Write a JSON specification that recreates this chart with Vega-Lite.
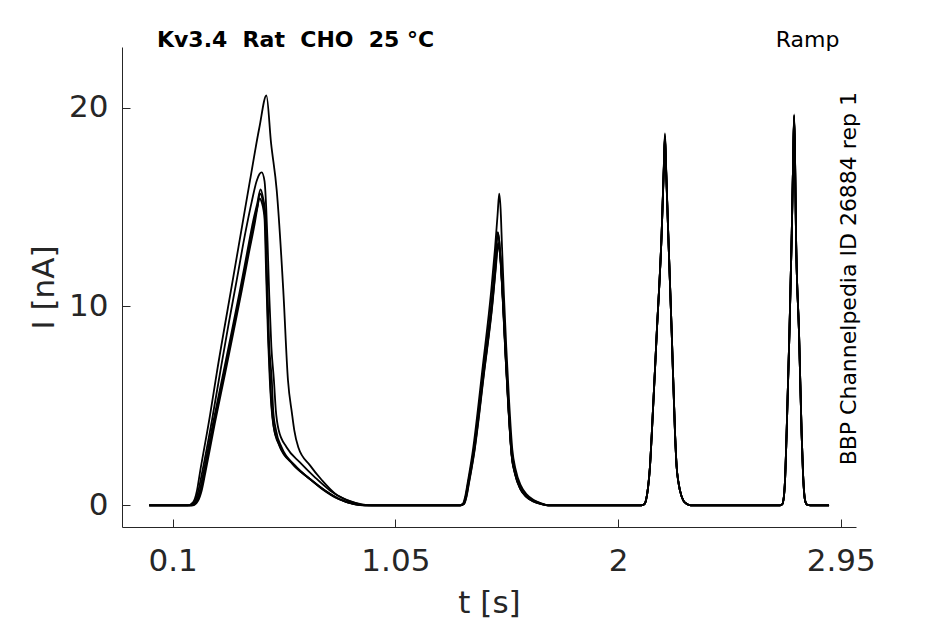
{
  "$schema": "https://vega.github.io/schema/vega-lite/v6.json",
  "width": 734,
  "height": 480,
  "autosize": "none",
  "padding": {"left": 122, "top": 47, "right": 89, "bottom": 97},
  "background": "white",
  "config": {"view": {"stroke": null}, "font": "DejaVu Sans"},
  "layer": [
    {
      "data": {"values": [
        {"sweep":"a","t":0,"i":0},{"sweep":"a","t":0.165,"i":0},{"sweep":"a","t":0.187,"i":0.15},{"sweep":"a","t":0.204,"i":0.75},{"sweep":"a","t":0.216,"i":1.61},{"sweep":"a","t":0.259,"i":4.5},{"sweep":"a","t":0.288,"i":6.64},{"sweep":"a","t":0.3585,"i":11.46},{"sweep":"a","t":0.43,"i":16.34},{"sweep":"a","t":0.47,"i":19.0},{"sweep":"a","t":0.5,"i":20.61},{"sweep":"a","t":0.52,"i":18.2},{"sweep":"a","t":0.544,"i":15.84},{"sweep":"a","t":0.572,"i":10.81},{"sweep":"a","t":0.592,"i":6.29},{"sweep":"a","t":0.609,"i":4.63},{"sweep":"a","t":0.619,"i":3.77},{"sweep":"a","t":0.636,"i":2.92},{"sweep":"a","t":0.686,"i":2.01},{"sweep":"a","t":0.737,"i":1.26},{"sweep":"a","t":0.792,"i":0.6},{"sweep":"a","t":0.848,"i":0.25},{"sweep":"a","t":0.908,"i":0.05},{"sweep":"a","t":0.95,"i":0},
        {"sweep":"a","t":1.324,"i":0},{"sweep":"a","t":1.338,"i":0.08},{"sweep":"a","t":1.348,"i":0.45},{"sweep":"a","t":1.358,"i":1.1},{"sweep":"a","t":1.38,"i":2.7},{"sweep":"a","t":1.423,"i":7.0},{"sweep":"a","t":1.459,"i":10.8},{"sweep":"a","t":1.475,"i":12.9},{"sweep":"a","t":1.486,"i":14.6},{"sweep":"a","t":1.493,"i":15.67},{"sweep":"a","t":1.499,"i":14.9},{"sweep":"a","t":1.505,"i":13.0},{"sweep":"a","t":1.513,"i":10.6},{"sweep":"a","t":1.523,"i":8.0},{"sweep":"a","t":1.535,"i":5.3},{"sweep":"a","t":1.549,"i":2.8},{"sweep":"a","t":1.563,"i":1.8},{"sweep":"a","t":1.585,"i":1.0},{"sweep":"a","t":1.61,"i":0.55},{"sweep":"a","t":1.64,"i":0.27},{"sweep":"a","t":1.672,"i":0.1},{"sweep":"a","t":1.705,"i":0},
        {"sweep":"a","t":2.1,"i":0},{"sweep":"a","t":2.112,"i":0.05},{"sweep":"a","t":2.12,"i":0.3},{"sweep":"a","t":2.128,"i":0.9},{"sweep":"a","t":2.136,"i":1.93},{"sweep":"a","t":2.144,"i":3.62},{"sweep":"a","t":2.165,"i":8.65},{"sweep":"a","t":2.186,"i":13.68},{"sweep":"a","t":2.196,"i":17.4},{"sweep":"a","t":2.2,"i":18.7},{"sweep":"a","t":2.204,"i":17.4},{"sweep":"a","t":2.214,"i":13.68},{"sweep":"a","t":2.229,"i":8.65},{"sweep":"a","t":2.243,"i":3.62},{"sweep":"a","t":2.25,"i":1.93},{"sweep":"a","t":2.257,"i":1.2},{"sweep":"a","t":2.264,"i":0.75},{"sweep":"a","t":2.278,"i":0.25},{"sweep":"a","t":2.292,"i":0.08},{"sweep":"a","t":2.31,"i":0},
        {"sweep":"a","t":2.69,"i":0},{"sweep":"a","t":2.7,"i":0.05},{"sweep":"a","t":2.707,"i":0.4},{"sweep":"a","t":2.712,"i":1.2},{"sweep":"a","t":2.719,"i":3.62},{"sweep":"a","t":2.731,"i":8.65},{"sweep":"a","t":2.741,"i":13.68},{"sweep":"a","t":2.747,"i":17.5},{"sweep":"a","t":2.751,"i":19.66},{"sweep":"a","t":2.755,"i":17.5},{"sweep":"a","t":2.759,"i":13.68},{"sweep":"a","t":2.772,"i":8.65},{"sweep":"a","t":2.783,"i":3.62},{"sweep":"a","t":2.789,"i":1.6},{"sweep":"a","t":2.794,"i":0.6},{"sweep":"a","t":2.8,"i":0.15},{"sweep":"a","t":2.808,"i":0.02},{"sweep":"a","t":2.82,"i":0},{"sweep":"a","t":2.9,"i":0},

        {"sweep":"b","t":0,"i":0},{"sweep":"b","t":0.172,"i":0},{"sweep":"b","t":0.193,"i":0.15},{"sweep":"b","t":0.21,"i":0.75},{"sweep":"b","t":0.225,"i":1.61},{"sweep":"b","t":0.268,"i":4.3},{"sweep":"b","t":0.302,"i":6.64},{"sweep":"b","t":0.34,"i":9.2},{"sweep":"b","t":0.373,"i":11.3},{"sweep":"b","t":0.41,"i":13.7},{"sweep":"b","t":0.438,"i":15.3},{"sweep":"b","t":0.458,"i":16.3},{"sweep":"b","t":0.47,"i":16.65},{"sweep":"b","t":0.48,"i":16.74},{"sweep":"b","t":0.492,"i":16.3},{"sweep":"b","t":0.499,"i":15.0},{"sweep":"b","t":0.505,"i":13.2},{"sweep":"b","t":0.512,"i":10.6},{"sweep":"b","t":0.521,"i":8.0},{"sweep":"b","t":0.532,"i":6.29},{"sweep":"b","t":0.54,"i":4.8},{"sweep":"b","t":0.552,"i":3.8},{"sweep":"b","t":0.586,"i":2.92},{"sweep":"b","t":0.643,"i":2.16},{"sweep":"b","t":0.707,"i":1.41},{"sweep":"b","t":0.771,"i":0.75},{"sweep":"b","t":0.835,"i":0.3},{"sweep":"b","t":0.899,"i":0.05},{"sweep":"b","t":0.935,"i":0},
        {"sweep":"b","t":1.326,"i":0},{"sweep":"b","t":1.34,"i":0.08},{"sweep":"b","t":1.35,"i":0.45},{"sweep":"b","t":1.36,"i":1.1},{"sweep":"b","t":1.382,"i":2.6},{"sweep":"b","t":1.425,"i":6.79},{"sweep":"b","t":1.461,"i":10.3},{"sweep":"b","t":1.476,"i":12.3},{"sweep":"b","t":1.482,"i":13.3},{"sweep":"b","t":1.487,"i":13.74},{"sweep":"b","t":1.493,"i":13.3},{"sweep":"b","t":1.5,"i":12.2},{"sweep":"b","t":1.51,"i":10.14},{"sweep":"b","t":1.52,"i":7.7},{"sweep":"b","t":1.532,"i":5.11},{"sweep":"b","t":1.54,"i":3.5},{"sweep":"b","t":1.546,"i":2.6},{"sweep":"b","t":1.56,"i":1.7},{"sweep":"b","t":1.582,"i":0.92},{"sweep":"b","t":1.607,"i":0.5},{"sweep":"b","t":1.638,"i":0.25},{"sweep":"b","t":1.67,"i":0.1},{"sweep":"b","t":1.7,"i":0},
        {"sweep":"b","t":2.1,"i":0},{"sweep":"b","t":2.112,"i":0.05},{"sweep":"b","t":2.12,"i":0.3},{"sweep":"b","t":2.128,"i":0.9},{"sweep":"b","t":2.136,"i":1.93},{"sweep":"b","t":2.144,"i":3.62},{"sweep":"b","t":2.165,"i":8.65},{"sweep":"b","t":2.186,"i":13.68},{"sweep":"b","t":2.196,"i":17.3},{"sweep":"b","t":2.2,"i":18.6},{"sweep":"b","t":2.204,"i":17.3},{"sweep":"b","t":2.214,"i":13.68},{"sweep":"b","t":2.229,"i":8.65},{"sweep":"b","t":2.243,"i":3.62},{"sweep":"b","t":2.25,"i":1.93},{"sweep":"b","t":2.257,"i":1.2},{"sweep":"b","t":2.264,"i":0.75},{"sweep":"b","t":2.278,"i":0.25},{"sweep":"b","t":2.292,"i":0.08},{"sweep":"b","t":2.31,"i":0},
        {"sweep":"b","t":2.69,"i":0},{"sweep":"b","t":2.7,"i":0.05},{"sweep":"b","t":2.707,"i":0.4},{"sweep":"b","t":2.712,"i":1.2},{"sweep":"b","t":2.719,"i":3.62},{"sweep":"b","t":2.731,"i":8.65},{"sweep":"b","t":2.741,"i":13.68},{"sweep":"b","t":2.747,"i":17.45},{"sweep":"b","t":2.751,"i":19.6},{"sweep":"b","t":2.755,"i":17.45},{"sweep":"b","t":2.759,"i":13.68},{"sweep":"b","t":2.772,"i":8.65},{"sweep":"b","t":2.783,"i":3.62},{"sweep":"b","t":2.789,"i":1.6},{"sweep":"b","t":2.794,"i":0.6},{"sweep":"b","t":2.8,"i":0.15},{"sweep":"b","t":2.808,"i":0.02},{"sweep":"b","t":2.82,"i":0},{"sweep":"b","t":2.9,"i":0},

        {"sweep":"c","t":0,"i":0},{"sweep":"c","t":0.178,"i":0},{"sweep":"c","t":0.199,"i":0.2},{"sweep":"c","t":0.216,"i":0.75},{"sweep":"c","t":0.231,"i":1.61},{"sweep":"c","t":0.272,"i":4.12},{"sweep":"c","t":0.316,"i":6.64},{"sweep":"c","t":0.353,"i":8.8},{"sweep":"c","t":0.387,"i":10.81},{"sweep":"c","t":0.417,"i":12.67},{"sweep":"c","t":0.444,"i":14.33},{"sweep":"c","t":0.46,"i":15.13},{"sweep":"c","t":0.475,"i":15.89},{"sweep":"c","t":0.485,"i":15.5},{"sweep":"c","t":0.496,"i":14.58},{"sweep":"c","t":0.502,"i":11.82},{"sweep":"c","t":0.511,"i":8.3},{"sweep":"c","t":0.523,"i":6.29},{"sweep":"c","t":0.529,"i":4.78},{"sweep":"c","t":0.541,"i":3.77},{"sweep":"c","t":0.565,"i":2.92},{"sweep":"c","t":0.622,"i":2.01},{"sweep":"c","t":0.693,"i":1.26},{"sweep":"c","t":0.75,"i":0.75},{"sweep":"c","t":0.814,"i":0.3},{"sweep":"c","t":0.878,"i":0.05},{"sweep":"c","t":0.92,"i":0},
        {"sweep":"c","t":1.327,"i":0},{"sweep":"c","t":1.341,"i":0.08},{"sweep":"c","t":1.351,"i":0.45},{"sweep":"c","t":1.361,"i":1.1},{"sweep":"c","t":1.383,"i":2.6},{"sweep":"c","t":1.426,"i":6.75},{"sweep":"c","t":1.462,"i":10.3},{"sweep":"c","t":1.477,"i":12.3},{"sweep":"c","t":1.483,"i":13.3},{"sweep":"c","t":1.488,"i":13.7},{"sweep":"c","t":1.494,"i":13.2},{"sweep":"c","t":1.501,"i":12.0},{"sweep":"c","t":1.51,"i":9.9},{"sweep":"c","t":1.52,"i":7.5},{"sweep":"c","t":1.532,"i":5.0},{"sweep":"c","t":1.54,"i":3.45},{"sweep":"c","t":1.546,"i":2.55},{"sweep":"c","t":1.56,"i":1.65},{"sweep":"c","t":1.582,"i":0.88},{"sweep":"c","t":1.607,"i":0.47},{"sweep":"c","t":1.638,"i":0.22},{"sweep":"c","t":1.67,"i":0.08},{"sweep":"c","t":1.7,"i":0},
        {"sweep":"c","t":2.1,"i":0},{"sweep":"c","t":2.112,"i":0.05},{"sweep":"c","t":2.12,"i":0.3},{"sweep":"c","t":2.128,"i":0.9},{"sweep":"c","t":2.136,"i":1.93},{"sweep":"c","t":2.144,"i":3.62},{"sweep":"c","t":2.165,"i":8.65},{"sweep":"c","t":2.186,"i":13.68},{"sweep":"c","t":2.196,"i":17.2},{"sweep":"c","t":2.2,"i":18.5},{"sweep":"c","t":2.204,"i":17.2},{"sweep":"c","t":2.214,"i":13.68},{"sweep":"c","t":2.229,"i":8.65},{"sweep":"c","t":2.243,"i":3.62},{"sweep":"c","t":2.25,"i":1.93},{"sweep":"c","t":2.257,"i":1.2},{"sweep":"c","t":2.264,"i":0.75},{"sweep":"c","t":2.278,"i":0.25},{"sweep":"c","t":2.292,"i":0.08},{"sweep":"c","t":2.31,"i":0},
        {"sweep":"c","t":2.69,"i":0},{"sweep":"c","t":2.7,"i":0.05},{"sweep":"c","t":2.707,"i":0.4},{"sweep":"c","t":2.712,"i":1.2},{"sweep":"c","t":2.719,"i":3.62},{"sweep":"c","t":2.731,"i":8.65},{"sweep":"c","t":2.741,"i":13.68},{"sweep":"c","t":2.747,"i":17.4},{"sweep":"c","t":2.751,"i":19.5},{"sweep":"c","t":2.755,"i":17.4},{"sweep":"c","t":2.759,"i":13.68},{"sweep":"c","t":2.772,"i":8.65},{"sweep":"c","t":2.783,"i":3.62},{"sweep":"c","t":2.789,"i":1.6},{"sweep":"c","t":2.794,"i":0.6},{"sweep":"c","t":2.8,"i":0.15},{"sweep":"c","t":2.808,"i":0.02},{"sweep":"c","t":2.82,"i":0},{"sweep":"c","t":2.9,"i":0},

        {"sweep":"d","t":0,"i":0},{"sweep":"d","t":0.182,"i":0},{"sweep":"d","t":0.203,"i":0.2},{"sweep":"d","t":0.22,"i":0.75},{"sweep":"d","t":0.235,"i":1.61},{"sweep":"d","t":0.276,"i":4.12},{"sweep":"d","t":0.32,"i":6.64},{"sweep":"d","t":0.357,"i":8.8},{"sweep":"d","t":0.391,"i":10.81},{"sweep":"d","t":0.421,"i":12.67},{"sweep":"d","t":0.448,"i":14.33},{"sweep":"d","t":0.463,"i":15.1},{"sweep":"d","t":0.472,"i":15.69},{"sweep":"d","t":0.484,"i":15.35},{"sweep":"d","t":0.494,"i":14.5},{"sweep":"d","t":0.5,"i":11.9},{"sweep":"d","t":0.509,"i":8.3},{"sweep":"d","t":0.516,"i":6.29},{"sweep":"d","t":0.523,"i":4.9},{"sweep":"d","t":0.532,"i":3.9},{"sweep":"d","t":0.555,"i":3.0},{"sweep":"d","t":0.615,"i":2.05},{"sweep":"d","t":0.688,"i":1.3},{"sweep":"d","t":0.745,"i":0.78},{"sweep":"d","t":0.81,"i":0.32},{"sweep":"d","t":0.875,"i":0.06},{"sweep":"d","t":0.92,"i":0},
        {"sweep":"d","t":1.328,"i":0},{"sweep":"d","t":1.343,"i":0.08},{"sweep":"d","t":1.353,"i":0.45},{"sweep":"d","t":1.363,"i":1.1},{"sweep":"d","t":1.385,"i":2.6},{"sweep":"d","t":1.428,"i":6.7},{"sweep":"d","t":1.464,"i":10.2},{"sweep":"d","t":1.478,"i":12.0},{"sweep":"d","t":1.484,"i":12.9},{"sweep":"d","t":1.489,"i":13.2},{"sweep":"d","t":1.495,"i":12.8},{"sweep":"d","t":1.502,"i":11.7},{"sweep":"d","t":1.511,"i":9.7},{"sweep":"d","t":1.521,"i":7.3},{"sweep":"d","t":1.532,"i":4.9},{"sweep":"d","t":1.54,"i":3.4},{"sweep":"d","t":1.546,"i":2.5},{"sweep":"d","t":1.56,"i":1.6},{"sweep":"d","t":1.582,"i":0.85},{"sweep":"d","t":1.607,"i":0.45},{"sweep":"d","t":1.638,"i":0.2},{"sweep":"d","t":1.67,"i":0.07},{"sweep":"d","t":1.7,"i":0},
        {"sweep":"d","t":2.1,"i":0},{"sweep":"d","t":2.112,"i":0.05},{"sweep":"d","t":2.12,"i":0.3},{"sweep":"d","t":2.128,"i":0.9},{"sweep":"d","t":2.136,"i":1.93},{"sweep":"d","t":2.144,"i":3.62},{"sweep":"d","t":2.165,"i":8.65},{"sweep":"d","t":2.186,"i":13.68},{"sweep":"d","t":2.196,"i":17.15},{"sweep":"d","t":2.2,"i":18.45},{"sweep":"d","t":2.204,"i":17.15},{"sweep":"d","t":2.214,"i":13.68},{"sweep":"d","t":2.229,"i":8.65},{"sweep":"d","t":2.243,"i":3.62},{"sweep":"d","t":2.25,"i":1.93},{"sweep":"d","t":2.257,"i":1.2},{"sweep":"d","t":2.264,"i":0.75},{"sweep":"d","t":2.278,"i":0.25},{"sweep":"d","t":2.292,"i":0.08},{"sweep":"d","t":2.31,"i":0},
        {"sweep":"d","t":2.69,"i":0},{"sweep":"d","t":2.7,"i":0.05},{"sweep":"d","t":2.707,"i":0.4},{"sweep":"d","t":2.712,"i":1.2},{"sweep":"d","t":2.719,"i":3.62},{"sweep":"d","t":2.731,"i":8.65},{"sweep":"d","t":2.741,"i":13.68},{"sweep":"d","t":2.747,"i":17.35},{"sweep":"d","t":2.751,"i":19.45},{"sweep":"d","t":2.755,"i":17.35},{"sweep":"d","t":2.759,"i":13.68},{"sweep":"d","t":2.772,"i":8.65},{"sweep":"d","t":2.783,"i":3.62},{"sweep":"d","t":2.789,"i":1.6},{"sweep":"d","t":2.794,"i":0.6},{"sweep":"d","t":2.8,"i":0.15},{"sweep":"d","t":2.808,"i":0.02},{"sweep":"d","t":2.82,"i":0},{"sweep":"d","t":2.9,"i":0},

        {"sweep":"e","t":0,"i":0},{"sweep":"e","t":0.186,"i":0},{"sweep":"e","t":0.207,"i":0.2},{"sweep":"e","t":0.224,"i":0.75},{"sweep":"e","t":0.239,"i":1.61},{"sweep":"e","t":0.28,"i":4.12},{"sweep":"e","t":0.324,"i":6.64},{"sweep":"e","t":0.361,"i":8.8},{"sweep":"e","t":0.395,"i":10.81},{"sweep":"e","t":0.425,"i":12.67},{"sweep":"e","t":0.452,"i":14.3},{"sweep":"e","t":0.462,"i":15.0},{"sweep":"e","t":0.47,"i":15.44},{"sweep":"e","t":0.481,"i":15.2},{"sweep":"e","t":0.492,"i":14.4},{"sweep":"e","t":0.498,"i":12.0},{"sweep":"e","t":0.507,"i":8.4},{"sweep":"e","t":0.514,"i":6.4},{"sweep":"e","t":0.521,"i":5.0},{"sweep":"e","t":0.53,"i":4.0},{"sweep":"e","t":0.553,"i":3.1},{"sweep":"e","t":0.61,"i":2.1},{"sweep":"e","t":0.683,"i":1.35},{"sweep":"e","t":0.74,"i":0.8},{"sweep":"e","t":0.805,"i":0.33},{"sweep":"e","t":0.87,"i":0.07},{"sweep":"e","t":0.92,"i":0},
        {"sweep":"e","t":1.329,"i":0},{"sweep":"e","t":1.344,"i":0.08},{"sweep":"e","t":1.354,"i":0.45},{"sweep":"e","t":1.364,"i":1.1},{"sweep":"e","t":1.386,"i":2.6},{"sweep":"e","t":1.429,"i":6.7},{"sweep":"e","t":1.465,"i":10.2},{"sweep":"e","t":1.479,"i":12.0},{"sweep":"e","t":1.485,"i":12.8},{"sweep":"e","t":1.49,"i":13.1},{"sweep":"e","t":1.496,"i":12.7},{"sweep":"e","t":1.503,"i":11.6},{"sweep":"e","t":1.512,"i":9.6},{"sweep":"e","t":1.522,"i":7.2},{"sweep":"e","t":1.533,"i":4.8},{"sweep":"e","t":1.541,"i":3.3},{"sweep":"e","t":1.547,"i":2.45},{"sweep":"e","t":1.561,"i":1.55},{"sweep":"e","t":1.583,"i":0.82},{"sweep":"e","t":1.608,"i":0.43},{"sweep":"e","t":1.639,"i":0.2},{"sweep":"e","t":1.671,"i":0.07},{"sweep":"e","t":1.7,"i":0},
        {"sweep":"e","t":2.1,"i":0},{"sweep":"e","t":2.112,"i":0.05},{"sweep":"e","t":2.12,"i":0.3},{"sweep":"e","t":2.128,"i":0.9},{"sweep":"e","t":2.136,"i":1.93},{"sweep":"e","t":2.144,"i":3.62},{"sweep":"e","t":2.165,"i":8.65},{"sweep":"e","t":2.186,"i":13.68},{"sweep":"e","t":2.196,"i":17.25},{"sweep":"e","t":2.2,"i":18.55},{"sweep":"e","t":2.204,"i":17.25},{"sweep":"e","t":2.214,"i":13.68},{"sweep":"e","t":2.229,"i":8.65},{"sweep":"e","t":2.243,"i":3.62},{"sweep":"e","t":2.25,"i":1.93},{"sweep":"e","t":2.257,"i":1.2},{"sweep":"e","t":2.264,"i":0.75},{"sweep":"e","t":2.278,"i":0.25},{"sweep":"e","t":2.292,"i":0.08},{"sweep":"e","t":2.31,"i":0},
        {"sweep":"e","t":2.69,"i":0},{"sweep":"e","t":2.7,"i":0.05},{"sweep":"e","t":2.707,"i":0.4},{"sweep":"e","t":2.712,"i":1.2},{"sweep":"e","t":2.719,"i":3.62},{"sweep":"e","t":2.731,"i":8.65},{"sweep":"e","t":2.741,"i":13.68},{"sweep":"e","t":2.747,"i":17.45},{"sweep":"e","t":2.751,"i":19.55},{"sweep":"e","t":2.755,"i":17.45},{"sweep":"e","t":2.759,"i":13.68},{"sweep":"e","t":2.772,"i":8.65},{"sweep":"e","t":2.783,"i":3.62},{"sweep":"e","t":2.789,"i":1.6},{"sweep":"e","t":2.794,"i":0.6},{"sweep":"e","t":2.8,"i":0.15},{"sweep":"e","t":2.808,"i":0.02},{"sweep":"e","t":2.82,"i":0},{"sweep":"e","t":2.9,"i":0}
      ]},
      "mark": {"type": "line", "color": "black", "strokeWidth": 1.8, "interpolate": "monotone"},
      "encoding": {
        "x": {
          "field": "t",
          "type": "quantitative",
          "scale": {"domain": [-0.116, 3.015], "nice": false, "zero": false},
          "axis": {
            "title": "t [s]",
            "values": [0.1, 1.05, 2, 2.95],
            "labelExpr": "datum.value + ''",
            "grid": false,
            "tickSize": -8,
            "labelPadding": 27,
            "labelFontSize": 31,
            "labelFont": "DejaVu Sans",
            "labelColor": "#262626",
            "labelFlush": false,
            "labelOverlap": false,
            "titleFont": "DejaVu Sans",
            "titleFontSize": 31,
            "titleFontWeight": "normal",
            "titleColor": "#262626",
            "titlePadding": 12,
            "domainColor": "#262626",
            "tickColor": "#262626"
          }
        },
        "y": {
          "field": "i",
          "type": "quantitative",
          "scale": {"domain": [-1.09, 23.05], "nice": false, "zero": false},
          "axis": {
            "title": "I [nA]",
            "values": [0, 10, 20],
            "grid": false,
            "tickSize": -8,
            "labelPadding": 22,
            "labelFontSize": 31,
            "labelFont": "DejaVu Sans",
            "labelColor": "#262626",
            "labelFlush": false,
            "titleFont": "DejaVu Sans",
            "titleFontSize": 31,
            "titleFontWeight": "normal",
            "titleColor": "#262626",
            "titlePadding": 8,
            "domainColor": "#262626",
            "tickColor": "#262626"
          }
        },
        "detail": {"field": "sweep", "type": "nominal"}
      }
    },
    {
      "data": {"values": [{"label": "Kv3.4 \u00a0Rat \u00a0CHO \u00a025 °C"}]},
      "mark": {"type": "text", "align": "left", "baseline": "alphabetic", "fontSize": 22, "fontWeight": "bold", "color": "black", "font": "DejaVu Sans"},
      "encoding": {
        "x": {"datum": 0.033, "type": "quantitative"},
        "y": {"datum": 23.05, "type": "quantitative"},
        "text": {"field": "label"}
      }
    },
    {
      "data": {"values": [{"label": "Ramp"}]},
      "mark": {"type": "text", "align": "right", "baseline": "alphabetic", "fontSize": 22, "color": "black", "font": "DejaVu Sans"},
      "encoding": {
        "x": {"datum": 2.9446, "type": "quantitative"},
        "y": {"datum": 23.05, "type": "quantitative"},
        "text": {"field": "label"}
      }
    },
    {
      "data": {"values": [{"label": "BBP Channelpedia ID 26884 rep 1"}]},
      "mark": {"type": "text", "align": "left", "baseline": "alphabetic", "angle": 270, "fontSize": 22, "color": "black", "font": "DejaVu Sans"},
      "encoding": {
        "x": {"datum": 3.015, "type": "quantitative"},
        "y": {"datum": 2.01, "type": "quantitative"},
        "text": {"field": "label"}
      }
    }
  ]
}
